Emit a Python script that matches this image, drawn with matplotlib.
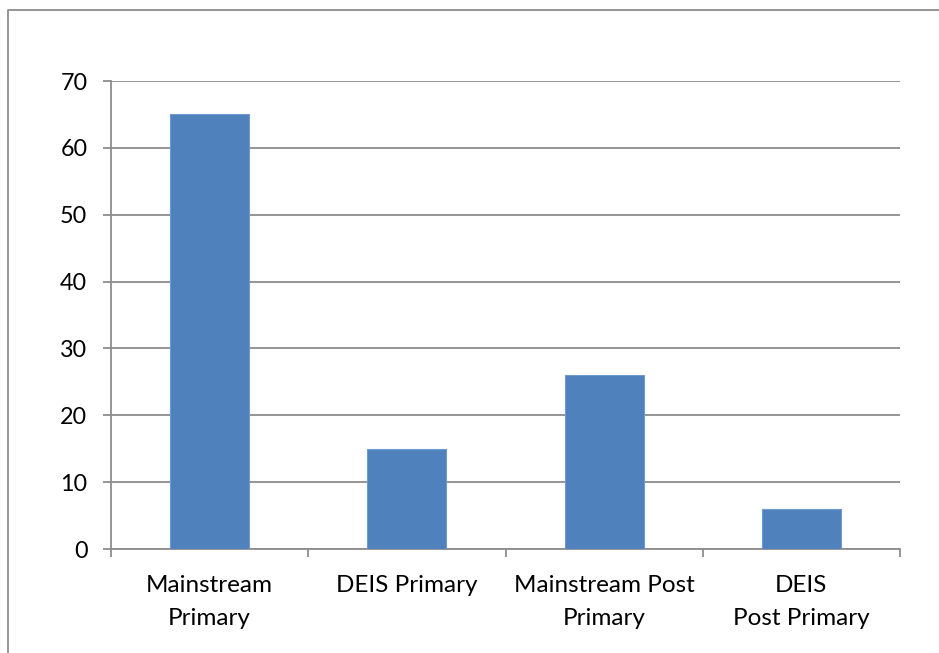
import matplotlib
matplotlib.use("Agg")
import matplotlib.pyplot as plt
from matplotlib.lines import Line2D

categories = ["Mainstream\nPrimary", "DEIS Primary", "Mainstream Post\nPrimary", "DEIS\nPost Primary"]
values = [65, 15, 26, 6]
yticks = [0, 10, 20, 30, 40, 50, 60, 70]

plt.rcParams['font.family'] = ['Lato', 'DejaVu Sans']

fig = plt.figure(figsize=(9.39, 6.53), dpi=100)
ax = fig.add_axes([111/939, 1-549/653, (900-111)/939, (549-81)/653])

grid_c = "#8c8c8c"
x = list(range(len(values)))
ax.bar(x, values, width=0.4, color="#4F81BD", edgecolor="#6f9ad0", linewidth=0.8, zorder=3)
ax.set_xlim(-0.5, len(values) - 0.5)
ax.set_ylim(0, 70)
ax.set_yticks(yticks)
ax.yaxis.grid(True, color=grid_c, linewidth=1.3, zorder=0)
ax.set_axisbelow(True)

ax.set_xticks([i - 0.5 for i in range(len(values) + 1)])
ax.set_xticklabels([])
ax.set_xticks(x, minor=True)
ax.set_xticklabels(categories, minor=True, fontsize=17.5, linespacing=1.75)
ax.tick_params(axis='x', which='minor', length=0, pad=18.5)
ax.tick_params(axis='x', which='major', length=6, width=1.3, color=grid_c, direction='out')
ax.tick_params(axis='y', length=6, width=1.3, color=grid_c, labelsize=16.8, pad=11, direction='out')

for s in ['top', 'right']:
    ax.spines[s].set_visible(False)
for s in ['left', 'bottom']:
    ax.spines[s].set_color(grid_c)
    ax.spines[s].set_linewidth(1.3)

# outer chart border (left and top)
fig.add_artist(Line2D([8/939, 8/939, 1.0], [0.0, 1-10/653, 1-10/653],
                      transform=fig.transFigure, color="#8c8c8c", linewidth=1.3))

fig.savefig("out.png", dpi=100)
